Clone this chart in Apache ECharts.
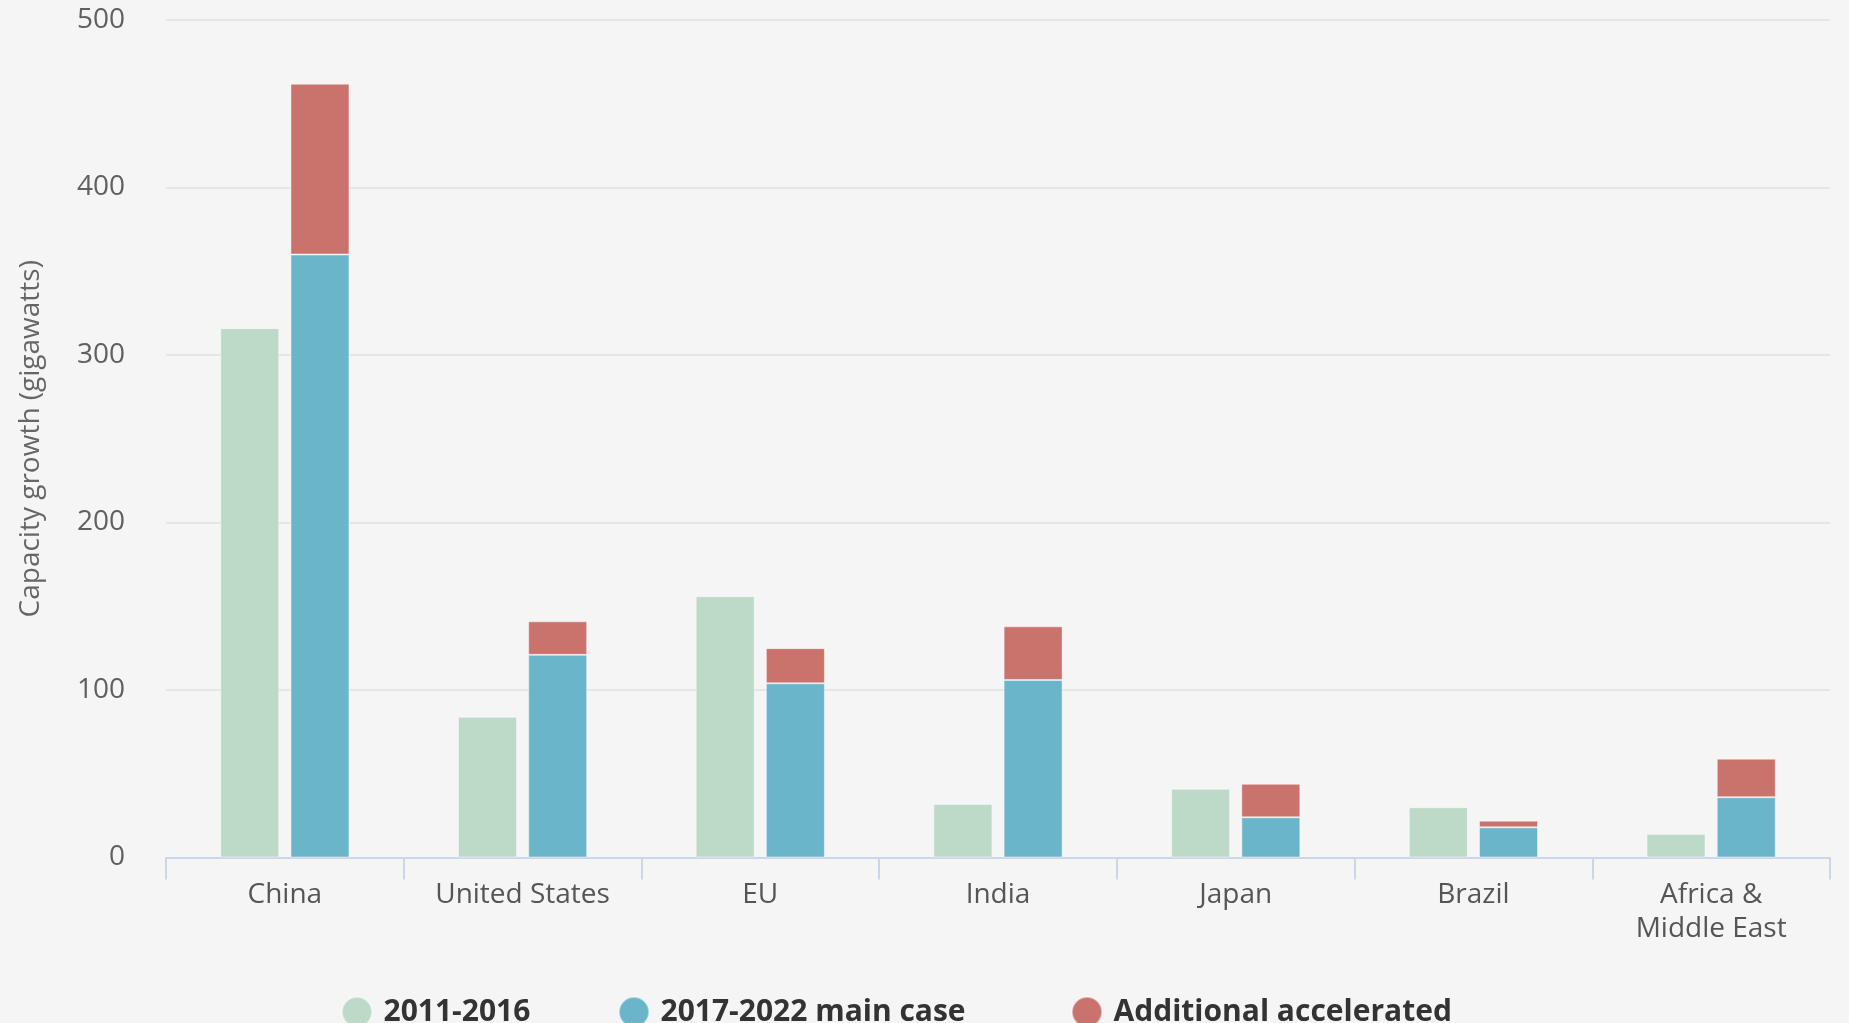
<!DOCTYPE html>
<html>
<head>
<meta charset="utf-8">
<script src="https://cdn.jsdelivr.net/npm/echarts@6/dist/echarts.min.js"></script>
<style>
html,body{margin:0;padding:0;background:#f5f5f5;}
#chart{width:1849px;height:1023px;}
</style>
</head>
<body>
<div id="chart"></div>
<script>
const categories = ['China', 'United States', 'EU', 'India', 'Japan', 'Brazil', 'Africa &\nMiddle East'];
const past2011_2016 = [316, 84, 156, 32, 41, 30, 14];
const mainCase2017_2022 = [360, 121, 104, 106, 24, 18, 36];
const additionalAccelerated = [102, 20, 21, 32, 20, 4, 23];
const yTicks = { min: 0, max: 500, interval: 100 };
const seriesNames = ['2011-2016', '2017-2022 main case', 'Additional accelerated'];

const chart = echarts.init(document.getElementById('chart'));
const labelFont = '"Open Sans", sans-serif';
const legendLefts = [336, 613, 1066];
const legendBase = {
  top: 991,
  icon: 'circle',
  itemWidth: 31,
  itemHeight: 30,
  textStyle: { fontFamily: labelFont, fontSize: 30, fontWeight: 'bold', color: '#333333', padding: [0, 0, 0, 6] }
};
chart.setOption({
  backgroundColor: '#f5f5f5',
  animation: false,
  grid: { left: 166, right: 19, top: 20, bottom: 165.5, containLabel: false },
  legend: seriesNames.map((n, i) => Object.assign({}, legendBase, { left: legendLefts[i], data: [n] })),
  xAxis: {
    type: 'category',
    data: categories,
    axisLine: { lineStyle: { color: '#ccd6eb', width: 2 } },
    axisTick: { show: true, length: 22, lineStyle: { color: '#ccd6eb', width: 2 } },
    axisLabel: { fontFamily: labelFont, fontSize: 28, color: '#555555', margin: 21, lineHeight: 34, interval: 0 }
  },
  yAxis: {
    type: 'value',
    min: yTicks.min, max: yTicks.max, interval: yTicks.interval,
    name: 'Capacity growth (gigawatts)',
    nameLocation: 'middle',
    nameRotate: 90,
    nameGap: 121,
    nameTextStyle: { fontFamily: labelFont, fontSize: 28, color: '#666666' },
    axisLine: { show: false },
    axisTick: { show: false },
    axisLabel: { fontFamily: labelFont, fontSize: 28, color: '#606060', margin: 41, padding: [5, 0, 0, 0] },
    splitLine: { lineStyle: { color: '#e6e6e6', width: 2 } }
  },
  series: [
    {
      name: seriesNames[0], type: 'bar', data: past2011_2016,
      barWidth: 59, barGap: '19%',
      itemStyle: { color: '#bdd9c7', borderColor: 'rgba(255,255,255,0.45)', borderWidth: 1 }
    },
    {
      name: seriesNames[1], type: 'bar', stack: 'proj', data: mainCase2017_2022,
      barWidth: 59, barGap: '19%',
      itemStyle: { color: '#6ab5ca', borderColor: 'rgba(255,255,255,0.45)', borderWidth: 1 }
    },
    {
      name: seriesNames[2], type: 'bar', stack: 'proj', data: additionalAccelerated,
      barWidth: 59, barGap: '19%',
      itemStyle: { color: '#c9736c', borderColor: 'rgba(255,255,255,0.45)', borderWidth: 1 }
    }
  ]
});
</script>
</body>
</html>
